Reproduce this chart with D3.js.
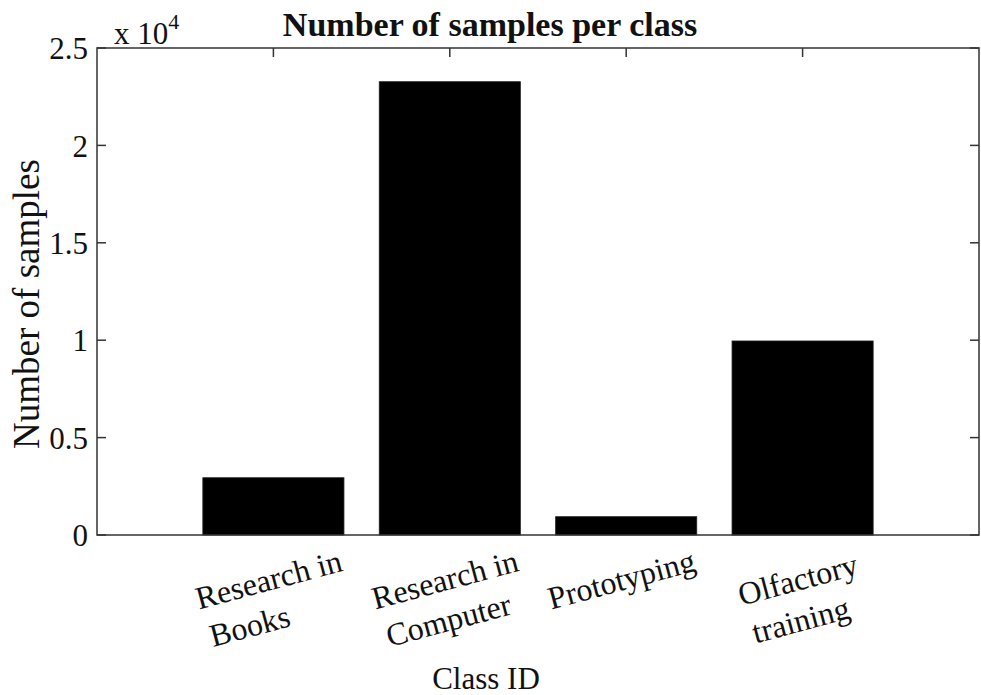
<!DOCTYPE html>
<html>
<head>
<meta charset="utf-8">
<script src="https://cdn.jsdelivr.net/npm/d3@7"></script>
<style>
  html, body { margin: 0; padding: 0; background: #fff; }
  svg text { font-family: "Liberation Serif", "DejaVu Serif", serif; fill: #111; }
</style>
</head>
<body>
<div id="chart"></div>
<script>
// class names, one array per tick label line
const classLines = [
    ["Research in", "Books"],
    ["Research in", "Computer"],
    ["Prototyping"],
    ["Olfactory", "training"]
];
const classIds = [1, 2, 3, 4];
const sampleCounts = [2940, 23270, 940, 9960];
const yTicks = [0, 5000, 10000, 15000, 20000, 25000];
const yTickLabels = ["0", "0.5", "1", "1.5", "2", "2.5"];

const width = 981;
const height = 695;
const margin = { top: 48, right: 2, bottom: 160, left: 97 };
const innerW = width - margin.left - margin.right;
const innerH = height - margin.top - margin.bottom;
const axisColor = "#333";

const svg = d3.select("#chart")
    .append("svg")
    .attr("width", width)
    .attr("height", height);

const g = svg.append("g").attr("transform", `translate(${margin.left},${margin.top})`);

const x = d3.scaleLinear().domain([0, 5]).range([0, innerW]);
const y = d3.scaleLinear().domain([0, 25000]).range([innerH, 0]);
const barW = x(0.8) - x(0);

// ticks (inside, mirrored on all four sides) -- drawn below bars
const tickLen = 9;
g.selectAll(".yt-left").data(yTicks).enter().append("line")
    .attr("x1", 0).attr("x2", tickLen)
    .attr("y1", d => y(d)).attr("y2", d => y(d))
    .attr("stroke", axisColor).attr("stroke-width", 1.5);
g.selectAll(".yt-right").data(yTicks).enter().append("line")
    .attr("x1", innerW).attr("x2", innerW - tickLen)
    .attr("y1", d => y(d)).attr("y2", d => y(d))
    .attr("stroke", axisColor).attr("stroke-width", 1.5);
g.selectAll(".xt-top").data(classIds).enter().append("line")
    .attr("x1", d => x(d)).attr("x2", d => x(d))
    .attr("y1", 0).attr("y2", tickLen)
    .attr("stroke", axisColor).attr("stroke-width", 1.5);
g.selectAll(".xt-bottom").data(classIds).enter().append("line")
    .attr("x1", d => x(d)).attr("x2", d => x(d))
    .attr("y1", innerH).attr("y2", innerH - tickLen)
    .attr("stroke", axisColor).attr("stroke-width", 1.5);

// bars
g.selectAll("rect.bar")
    .data(sampleCounts)
    .enter()
    .append("rect")
    .attr("class", "bar")
    .attr("x", (d, i) => x(classIds[i]) - barW / 2)
    .attr("y", d => y(d))
    .attr("width", barW)
    .attr("height", d => innerH - y(d))
    .attr("fill", "#000")
    .attr("stroke", "#222")
    .attr("stroke-width", 0.8);

// axes box
g.append("rect")
    .attr("x", 0).attr("y", 0)
    .attr("width", innerW).attr("height", innerH)
    .attr("fill", "none")
    .attr("stroke", axisColor)
    .attr("stroke-width", 1.5);

// y tick labels
g.selectAll(".ylab").data(yTicks).enter().append("text")
    .attr("x", -9)
    .attr("y", d => y(d))
    .attr("dy", "0.36em")
    .attr("text-anchor", "end")
    .style("font-size", "31px")
    .text((d, i) => yTickLabels[i]);

// exponent label
const expo = svg.append("text")
    .attr("x", 114)
    .attr("y", 44)
    .style("font-size", "31px");
expo.append("tspan").text("x 10");
expo.append("tspan").attr("dy", -15).style("font-size", "22px").text("4");

// rotated category labels
classLines.forEach((lines, i) => {
    const lg = g.append("g")
        .attr("transform", `translate(${x(classIds[i]) - 2},${innerH + 55}) rotate(-15)`);
    const first = lg.append("text")
        .attr("x", 0).attr("y", 0)
        .attr("text-anchor", "middle")
        .style("font-size", "32px")
        .text(lines[0]);
    const w = first.node().getComputedTextLength();
    lines.slice(1).forEach((ln, j) => {
        lg.append("text")
            .attr("x", -w / 2 + 4)
            .attr("y", 40 * (j + 1))
            .attr("text-anchor", "start")
            .style("font-size", "32px")
            .text(ln);
    });
});

// title
svg.append("text")
    .attr("x", 490)
    .attr("y", 36)
    .attr("text-anchor", "middle")
    .style("font-size", "34px")
    .style("font-weight", "bold")
    .text("Number of samples per class");

// axis titles
svg.append("text")
    .attr("x", 486)
    .attr("y", 689)
    .attr("text-anchor", "middle")
    .style("font-size", "31px")
    .text("Class ID");

svg.append("text")
    .attr("transform", `translate(39,304) rotate(-90)`)
    .attr("text-anchor", "middle")
    .style("font-size", "37px")
    .text("Number of samples");
</script>
</body>
</html>
